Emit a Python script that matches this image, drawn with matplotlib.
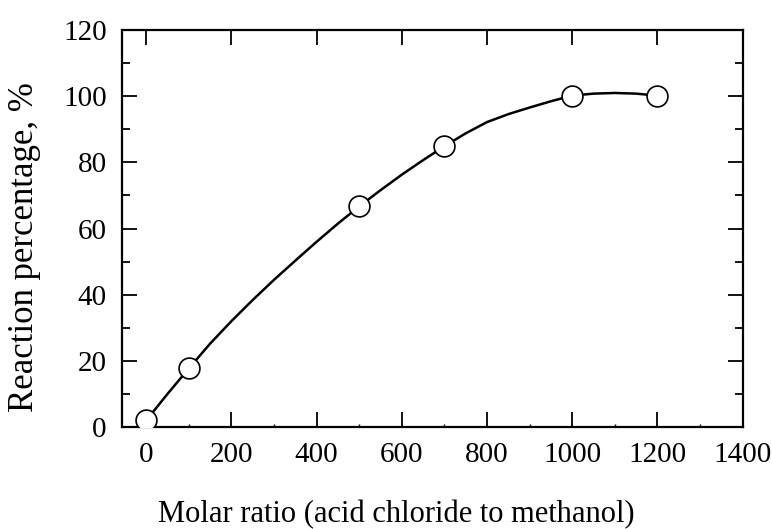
import numpy as np
import matplotlib
matplotlib.use("Agg")
import matplotlib.pyplot as plt
from matplotlib.ticker import MultipleLocator

# measured points
molar_ratio = [0, 100, 500, 700, 1000, 1200]
reaction_pct = [2, 17.7, 66.7, 84.9, 100.2, 100.2]

# smooth guide curve
curve_x = [0, 50, 100, 150, 200, 250, 300, 350, 400, 450, 500, 550, 600, 650, 700,
           750, 800, 850, 900, 950, 1000, 1050, 1100, 1150, 1200]
curve_y = [2, 10, 17.7, 25.2, 32, 38.4, 44.5, 50.3, 56, 61.5, 66.7, 71.6, 76.3, 80.7, 84.9,
           88.8, 92.2, 94.6, 96.6, 98.5, 100.2, 100.8, 101, 100.8, 100.2]

plt.rcParams['font.family'] = ['Liberation Serif', 'DejaVu Serif']
plt.rcParams['font.size'] = 21

fig = plt.figure(figsize=(7.72, 5.29), dpi=100)
ax = fig.add_axes([0.158, 0.193, 0.804, 0.750])

ax.plot(curve_x, curve_y, color='black', lw=1.8, zorder=2, solid_joinstyle='round')
ax.plot(molar_ratio, reaction_pct, 'o', ms=15, mfc='white', mec='black', mew=1.2, zorder=3)

ax.set_xlim(-57, 1400)
ax.set_ylim(0, 120)
ax.xaxis.set_major_locator(MultipleLocator(200))
ax.xaxis.set_minor_locator(MultipleLocator(100))
ax.yaxis.set_major_locator(MultipleLocator(20))
ax.yaxis.set_minor_locator(MultipleLocator(10))

ax.tick_params(which='major', direction='in', top=True, right=True, length=10.5, width=1.3, pad=11)
ax.tick_params(axis='y', which='minor', direction='in', right=True, length=5.5, width=1.3)
ax.tick_params(axis='x', which='minor', direction='in', top=False, length=2, width=1)

for s in ax.spines.values():
    s.set_linewidth(1.6)

fig.text(0.032, 0.533, 'Reaction percentage, %', rotation=90, ha='center', va='center', fontsize=25)
fig.text(0.514, 0.028, 'Molar ratio (acid chloride to methanol)', ha='center', va='center', fontsize=22)

fig.savefig('out.png', dpi=100)
